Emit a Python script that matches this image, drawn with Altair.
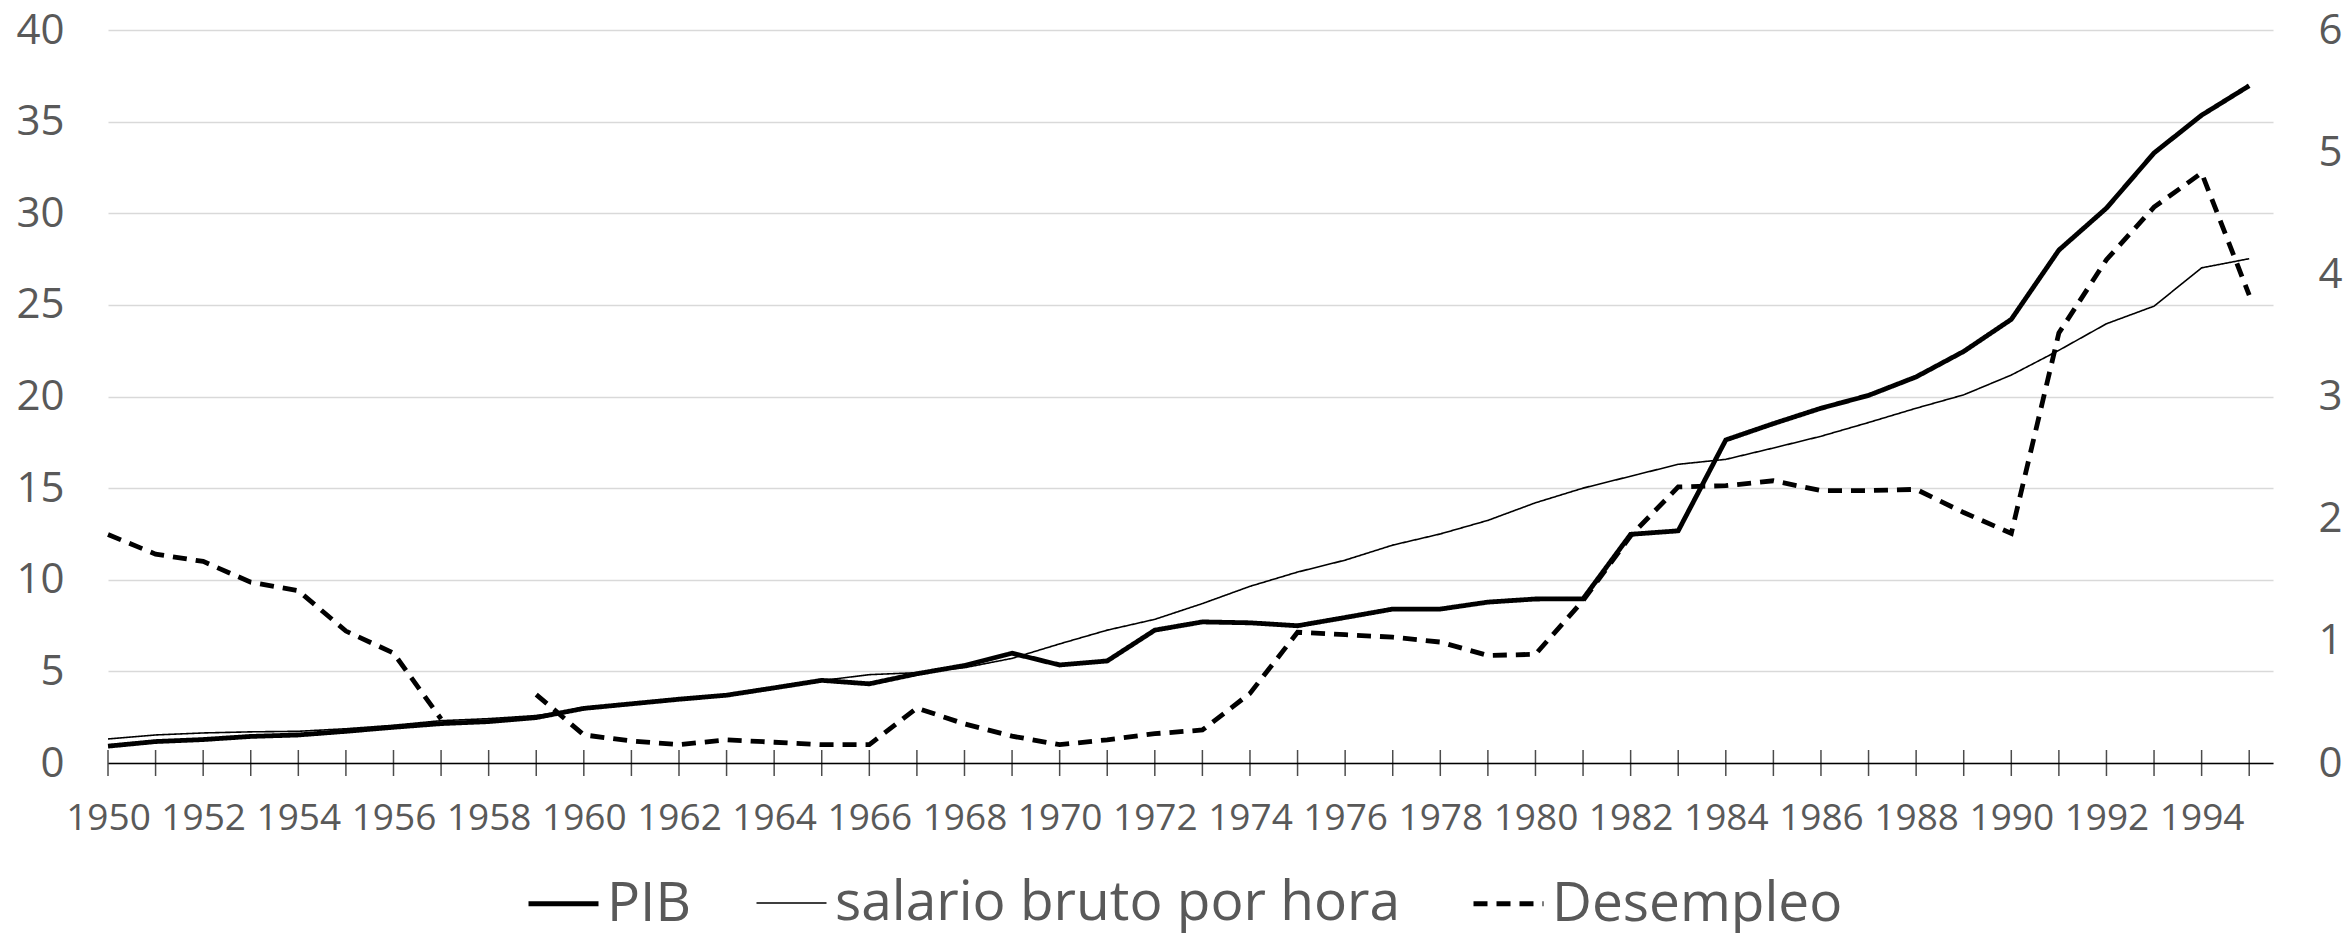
import altair as alt
import pandas as pd

years = list(range(1950, 1996))
series = ["PIB", "salario bruto por hora", "Desempleo"]

pib = [0.92, 1.17, 1.28, 1.45, 1.53, 1.73, 1.95, 2.15, 2.26, 2.48,
       2.98, 3.23, 3.48, 3.70, 4.10, 4.51, 4.32, 4.87, 5.32, 5.99,
       5.35, 5.57, 7.25, 7.70, 7.65, 7.49, 7.94, 8.40, 8.40, 8.78,
       8.95, 8.96, 12.48, 12.67, 17.63, 18.52, 19.36, 20.06, 21.07, 22.46,
       24.21, 27.99, 30.28, 33.29, 35.35, 36.96]

salario = [1.31, 1.53, 1.64, 1.70, 1.73, 1.87, 2.06, 2.31, 2.42, 2.59,
           2.95, 3.25, 3.50, 3.75, 4.10, 4.50, 4.82, 4.93, 5.20, 5.71,
           6.50, 7.25, 7.84, 8.70, 9.64, 10.42, 11.07, 11.89, 12.50, 13.24,
           14.20, 15.00, 15.65, 16.30, 16.57, 17.19, 17.83, 18.58, 19.36, 20.09,
           21.17, 22.52, 23.97, 24.93, 27.02, 27.52]

desempleo = [1.87, 1.71, 1.65, 1.48, 1.41, 1.08, 0.90, 0.36, None, 0.56,
             0.23, 0.18, 0.15, 0.19, 0.17, 0.15, 0.15, 0.45, 0.32, 0.22,
             0.15, 0.19, 0.24, 0.27, 0.57, 1.07, 1.05, 1.03, 0.99, 0.88,
             0.89, 1.33, 1.86, 2.26, 2.27, 2.31, 2.23, 2.23, 2.24, 2.05,
             1.88, 3.52, 4.12, 4.55, 4.83, 3.83]

left_ticks = [0, 5, 10, 15, 20, 25, 30, 35, 40]
right_ticks = [0, 1, 2, 3, 4, 5, 6]

rows = []
for i, yr in enumerate(years):
    rows.append({"year": yr, "serie": series[0], "valor": pib[i]})
    rows.append({"year": yr, "serie": series[1], "valor": salario[i]})
    rows.append({"year": yr, "serie": series[2], "valor": desempleo[i]})
df = pd.DataFrame(rows)
ticks_df = pd.DataFrame({"year": years})

GRAY = "#595959"
FONT = "Open Sans"

x_enc = alt.X(
    "year:Q",
    scale=alt.Scale(domain=[1950, 1995.5], nice=False, zero=False),
    axis=alt.Axis(
        values=years, format="d",
        labelExpr="datum.value % 2 == 0 ? datum.label : ''",
        ticks=False, grid=False, domainColor="black", domainWidth=1.5,
        labelFontSize=37, labelColor=GRAY, labelPadding=37,
        labelFlush=False, labelOverlap=False, title=None, zindex=2,
    ),
)

y_left = alt.Y(
    "valor:Q",
    scale=alt.Scale(domain=[0, 40], nice=False, zero=True),
    axis=alt.Axis(
        values=left_ticks, orient="left", grid=True, gridColor="#d9d9d9",
        gridWidth=1.5, domain=False, ticks=False, labelFontSize=42,
        labelColor=GRAY, labelPadding=44, title=None,
    ),
)

y_right = alt.Y(
    "valor:Q",
    scale=alt.Scale(domain=[0, 6], nice=False, zero=True),
    axis=alt.Axis(
        values=right_ticks, orient="right", grid=False, domain=False,
        ticks=False, labelFontSize=42, labelColor=GRAY, labelPadding=45,
        title=None,
    ),
)

legend = alt.Legend(
    title=None, orient="none", legendX=418, legendY=836,
    direction="horizontal", columns=3, symbolType="stroke",
    symbolSize=4900, symbolStrokeColor="black", labelFontSize=55,
    labelColor=GRAY, labelFont=FONT, columnPadding=62, labelOffset=6,
    labelLimit=2000, padding=0,
)

sw = alt.StrokeWidth(
    "serie:N",
    scale=alt.Scale(type="ordinal", domain=series, range=[4.8, 1.6, 4.8]),
    legend=legend,
)
sd = alt.StrokeDash(
    "serie:N",
    scale=alt.Scale(domain=series, range=[[1, 0], [1, 0], [14, 9]]),
    legend=legend,
)

base = alt.Chart(df)

left_lines = base.transform_filter(
    alt.FieldOneOfPredicate(field="serie", oneOf=series[:2])
).mark_line(color="black", strokeCap="butt").encode(
    x=x_enc, y=y_left, strokeWidth=sw, strokeDash=sd,
    detail="serie:N",
)

tick_marks = alt.Chart(ticks_df).mark_tick(
    color="black", orient="vertical", size=26, thickness=1.5
).encode(x=x_enc, y=alt.datum(0))

left_group = alt.layer(left_lines, tick_marks)

right_line = base.transform_filter(
    alt.FieldEqualPredicate(field="serie", equal=series[2])
).mark_line(
    color="black", strokeCap="butt", invalid="break-paths-filter-domains"
).encode(
    x=x_enc, y=y_right, strokeWidth=sw, strokeDash=sd,
)

chart = alt.layer(left_group, right_line).resolve_scale(
    y="independent"
).properties(
    width=2165, height=733,
    autosize=alt.AutoSizeParams(type="none"),
    padding={"left": 100, "top": 22, "right": 70, "bottom": 172},
).configure(font=FONT).configure_view(stroke=None)

chart.save("out.html", embed_options={"renderer": "svg", "actions": False})
